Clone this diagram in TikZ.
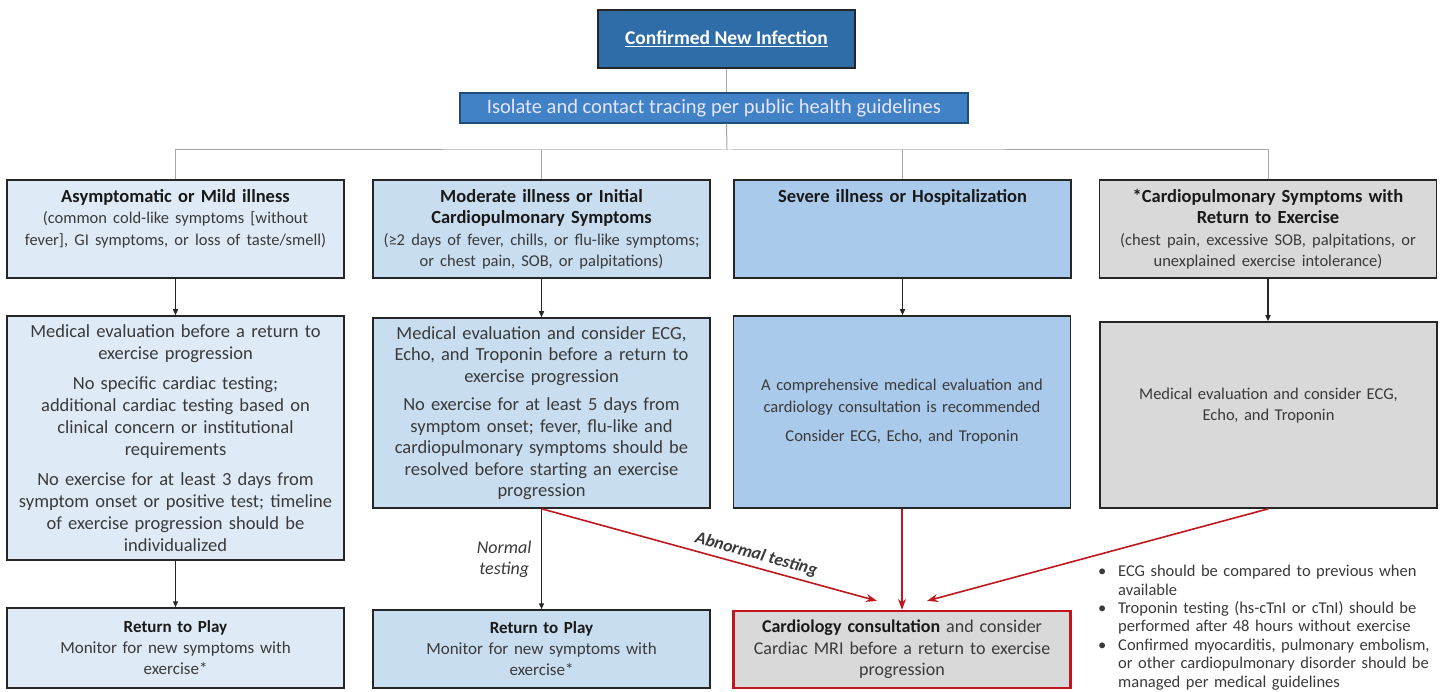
\documentclass[tikz,border=0pt]{standalone}
\usepackage{fontspec}
\setmainfont{Carlito}
\usepackage{xcolor}
\usepackage{tikz}
\usetikzlibrary{arrows.meta,positioning,calc}

\definecolor{topblue}{HTML}{2F6DA8}
\definecolor{barblue}{HTML}{4182C6}
\definecolor{barline}{HTML}{1F4E79}
\definecolor{lbone}{HTML}{DEEBF7}
\definecolor{lbtwo}{HTML}{C9DDF0}
\definecolor{lbthree}{HTML}{A9CAEA}
\definecolor{lgray}{HTML}{D9D9D9}
\definecolor{txt}{HTML}{3A3A3A}
\definecolor{redc}{HTML}{C0161E}

\newcommand{\toptext}[2]{\parbox[c][#1][t]{\linewidth}{\vspace{3pt}\centering #2}}
\newcommand{\hdtitle}[1]{{\fontsize{18.5}{21.5}\selectfont\bfseries\color{black!90}#1}}
\newcommand{\subfont}{\fontsize{16.5}{21.5}\selectfont}
\newcommand{\bul}[1]{\hangindent=20pt\hangafter=1\noindent\makebox[20pt][l]{\textbullet}#1\par}

\begin{document}
\begin{tikzpicture}[x=1pt, y=-1pt,
  box/.style={draw=black!85, line width=1.5pt, align=center, inner sep=5pt, text=txt,
    font=\fontsize{18.5}{21.5}\selectfont},
  colbox/.style={box, minimum width=335pt, text width=327pt},
  smalltxt/.style={font=\fontsize{16.5}{21.5}\selectfont},
  tree/.style={draw=black!35, line width=1pt},
  arr/.style={-{Triangle[length=6pt,width=5pt]}, line width=1.3pt, black!85},
  redarr/.style={-{Stealth[length=11pt,width=8pt]}, line width=1.6pt, redc},
  lbl/.style={font=\fontsize{18}{21}\selectfont\itshape, text=txt, align=center}
]
\useasboundingbox (0,0) rectangle (1444,692);

% top of the chart
\node[box, fill=topblue, line width=2pt, minimum width=257pt, minimum height=58pt,
  text=white, font=\fontsize{19.5}{22}\selectfont\bfseries] (top) at (726.5,39)
  {\underline{Confirmed New Infection}};
\node[box, fill=barblue, draw=barline, line width=1.2pt, minimum width=508pt,
  minimum height=30pt, inner sep=1pt, text=white!90!blue,
  font=\fontsize{20.5}{22}\selectfont] (iso) at (714,108)
  {Isolate and contact tracing per public health guidelines};

% the four groups
\node[colbox, fill=lbone, minimum height=98pt] (hdr1) at (175.5,229)
  {\toptext{86pt}{\hdtitle{Asymptomatic or Mild illness}\\ {\subfont (common cold-like symptoms [without\\ fever], GI symptoms, or loss of taste/smell)}}};
\node[colbox, fill=lbtwo, minimum height=98pt, minimum width=337pt] (hdr2) at (541.5,229)
  {\toptext{86pt}{\hdtitle{Moderate illness or Initial\\ Cardiopulmonary Symptoms}\\ {\subfont (≥2 days of fever, chills, or flu-like symptoms;\\ or chest pain, SOB, or palpitations)}}};
\node[colbox, fill=lbthree, minimum height=98pt, minimum width=333pt] (hdr3) at (902.5,229)
  {\toptext{86pt}{\hdtitle{Severe illness or Hospitalization}}};
\node[colbox, fill=lgray, minimum height=98pt, minimum width=336pt] (hdr4) at (1268,229)
  {\toptext{86pt}{\hdtitle{*Cardiopulmonary Symptoms with\\ Return to Exercise}\\ {\subfont (chest pain, excessive SOB, palpitations, or\\ unexplained exercise intolerance)}}};

% evaluation boxes
\node[colbox, fill=lbone, minimum height=244pt, font=\fontsize{18.5}{22}\selectfont] (bod1) at (175.5,438)
  {Medical evaluation before a return to\\ exercise progression\\[8pt]
   No specific cardiac testing;\\ additional cardiac testing based on\\ clinical concern or institutional\\ requirements\\[8pt]
   No exercise for at least 3 days from\\ symptom onset or positive test; timeline\\ of exercise progression should be\\ individualized};
\node[colbox, fill=lbtwo, minimum height=190pt, minimum width=337pt] (bod2) at (541.5,413)
  {Medical evaluation and consider ECG,\\ Echo, and Troponin before a return to\\ exercise progression\\[7pt]
   No exercise for at least 5 days from\\ symptom onset; fever, flu-like and\\ cardiopulmonary symptoms should be\\ resolved before starting an exercise\\ progression};
\node[colbox, smalltxt, fill=lbthree, minimum height=192pt, minimum width=334pt] (bod3) at (902,412)
  {A comprehensive medical evaluation and\\ cardiology consultation is recommended\\[8pt]
   Consider ECG, Echo, and Troponin};
\node[colbox, smalltxt, fill=lgray, minimum height=186pt] (bod4) at (1268.5,415)
  {Medical evaluation and consider ECG,\\ Echo, and Troponin\\ \mbox{}};

% outcomes
\node[colbox, fill=lbone, minimum height=80pt, font=\fontsize{17}{21}\selectfont] (rtp1) at (175.5,648)
  {\textbf{\color{black!90}Return to Play}\\ Monitor for new symptoms with\\ exercise*};
\node[colbox, fill=lbtwo, minimum height=78pt, minimum width=337pt, font=\fontsize{17}{21}\selectfont] (rtp2) at (541.5,649)
  {\textbf{\color{black!90}Return to Play}\\ Monitor for new symptoms with\\ exercise*};
\node[colbox, fill=lgray, draw=redc, line width=2.2pt, minimum height=77pt, minimum width=332pt,
  font=\fontsize{18}{21.5}\selectfont] (cardio) at (902,649.5)
  {\textbf{\color{black!90}Cardiology consultation} and consider\\ Cardiac MRI before a return to exercise\\ progression};

\node[anchor=north west, text width=340pt, inner sep=0pt, text=txt,
  font=\fontsize{16.5}{18.4}\selectfont] (notes) at (1098,565)
  {\raggedright
   \bul{ECG should be compared to previous when\newline available}
   \bul{Troponin testing (hs-cTnI or cTnI) should be\newline performed after 48 hours without exercise}
   \bul{Confirmed myocarditis, pulmonary embolism,\newline or other cardiopulmonary disorder should be\newline managed per medical guidelines}};

% gray tree
\coordinate (bus) at (727,150);
\draw[tree] (top.south) -- (top.south |- iso.north);
\draw[tree] (top.south |- iso.south) -- (bus);
\draw[tree] (hdr1.north) |- (bus) -| (hdr4.north);
\foreach \h in {hdr2,hdr3}
  \draw[tree] (\h.north) -- (\h.north |- bus);

% arrows
\draw[arr] (hdr1) -- (bod1);
\draw[arr] (hdr2) -- (bod2);
\draw[arr] (hdr3.south) -- (hdr3.south |- bod3.north);
\draw[arr] (hdr4.south) -- (hdr4.south |- bod4.north);
\draw[arr] (bod1) -- (rtp1);
\draw[arr] (bod2) -- node[left=6pt, lbl] {Normal\\testing} (rtp2);

\draw[redarr] (bod2.south) -- node[sloped, above=1pt, pos=0.63, lbl, font=\fontsize{17.5}{20}\selectfont\bfseries\itshape] {Abnormal testing} ([xshift=-25pt,yshift=9pt]cardio.north);
\draw[redarr] (bod3) -- (cardio);
\draw[redarr] (bod4.south) -- ([xshift=25pt,yshift=9pt]cardio.north);
\end{tikzpicture}
\end{document}
